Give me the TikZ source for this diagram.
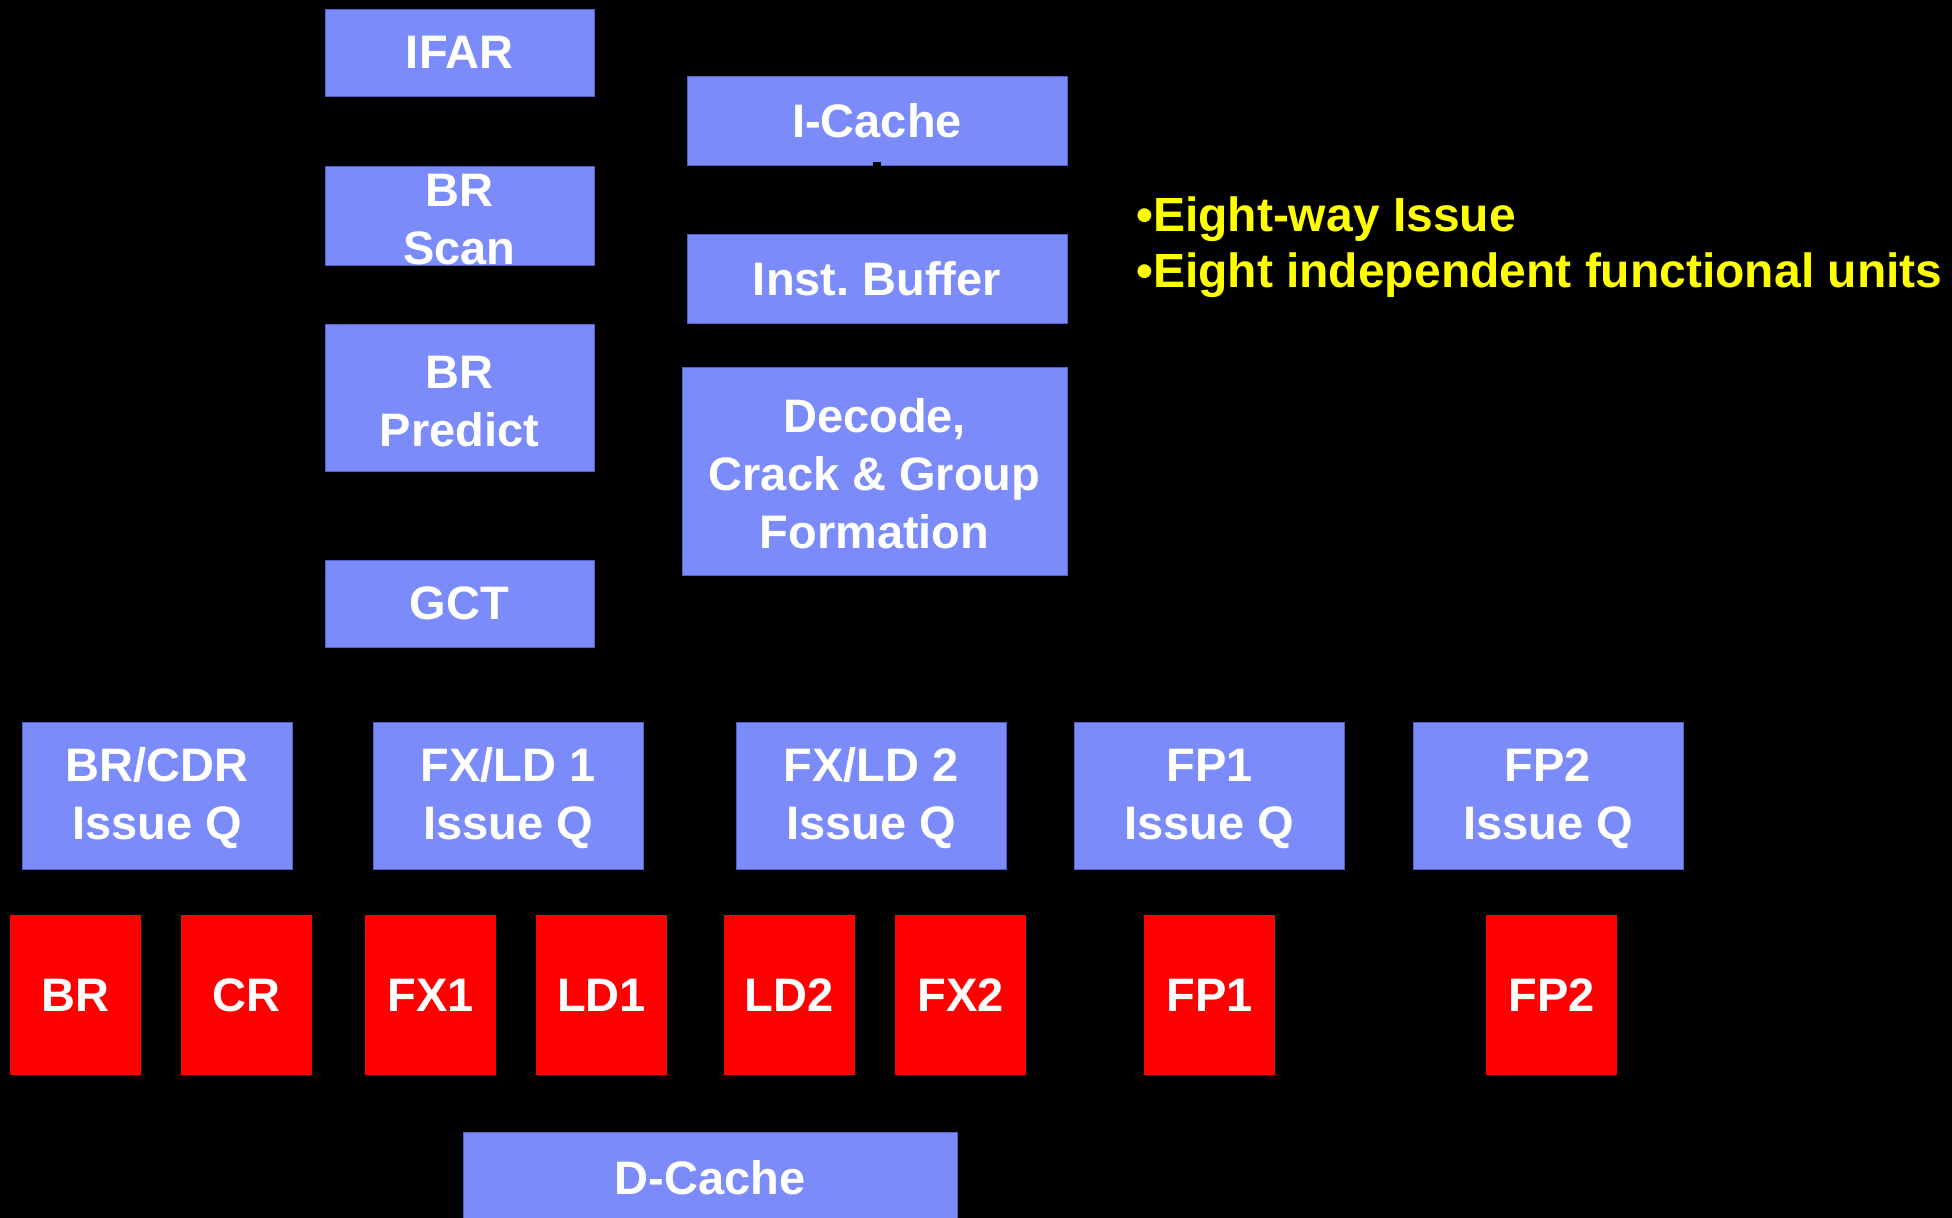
\documentclass[tikz,border=0pt]{standalone}
\usepackage{fontspec}
\setmainfont{Liberation Sans}
\definecolor{boxblue}{RGB}{123,139,250}
\definecolor{boxedge}{RGB}{80,96,200}
\definecolor{fured}{RGB}{255,0,0}
\definecolor{bullety}{RGB}{255,255,0}
\newcommand{\topstrut}{\rule{0pt}{40pt}}
\begin{document}
\begin{tikzpicture}[x=1pt,y=-1pt,
  blk/.style={rectangle, fill=boxblue, draw=boxedge, line width=1pt, inner sep=0pt,
    text=white, align=center, font=\bfseries\fontsize{47}{58}\selectfont\frenchspacing},
  fu/.style={rectangle, fill=fured, draw=none, inner sep=0pt, text=white,
    minimum width=131pt, minimum height=160pt, font=\bfseries\fontsize{47}{58}\selectfont},
  iq/.style={blk, minimum width=270pt, minimum height=147pt},
  note/.style={text=bullety, anchor=base west, inner sep=0pt, font=\bfseries\fontsize{48}{57}\selectfont},
  hidden/.style={draw=black, line width=8pt}]
\fill[black] (0,0) rectangle (1952,1218);
\clip (0,0) rectangle (1952,1218);
\useasboundingbox (0,0) rectangle (1952,1218);
% front end
\node[blk, minimum width=269pt, minimum height=87pt] (ifar) at (459.5,52.5) {IFAR};
\node[blk, minimum width=380pt, minimum height=89pt] (icache) at (877,120.5) {I-Cache};
\node[blk, minimum width=269pt, minimum height=99pt] (brscan) at (459.5,215.5) {\topstrut BR\\Scan};
\node[blk, minimum width=380pt, minimum height=89pt] (ibuf) at (877,278.5) {Inst.\ Buffer};
\node[blk, minimum width=269pt, minimum height=147pt] (brpred) at (459.5,397.5) {\topstrut BR\\Predict};
\node[blk, minimum width=385pt, minimum height=208pt] (decode) at (874.5,471) {\topstrut Decode,\\Crack \& Group\\Formation};
\node[blk, minimum width=269pt, minimum height=87pt] (gct) at (459.5,603.5) {GCT};
% hidden (black) connector
\draw[hidden] ([yshift=4pt]icache.south) -- (ibuf.north);
% issue queues
\node[iq] (qbr) at (157,795.5) {\topstrut BR/CDR\\Issue Q};
\node[iq] (qfx1) at (508,795.5) {\topstrut FX/LD 1\\Issue Q};
\node[iq] (qfx2) at (871,795.5) {\topstrut FX/LD 2\\Issue Q};
\node[iq] (qfp1) at (1209.5,795.5) {\topstrut FP1\\Issue Q};
\node[iq] (qfp2) at (1548,795.5) {\topstrut FP2\\Issue Q};
% functional units
\node[fu] (ubr) at (75.5,995) {BR};
\node[fu] (ucr) at (246.5,995) {CR};
\node[fu] (ufx1) at (430.5,995) {FX1};
\node[fu] (uld1) at (601.5,995) {LD1};
\node[fu] (uld2) at (789,995) {LD2};
\node[fu] (ufx2) at (960.5,995) {FX2};
\node[fu] (ufp1) at (1209.5,995) {FP1};
\node[fu] (ufp2) at (1551.5,995) {FP2};
% data cache
\node[blk, minimum width=494pt, minimum height=92pt] (dcache) at (710,1178) {D-Cache};
% notes
\node[note] (n1) at (1136,231) {•Eight-way Issue};
\node[note] (n2) at (1136,287.7) {•Eight independent functional units};
\end{tikzpicture}
\end{document}
